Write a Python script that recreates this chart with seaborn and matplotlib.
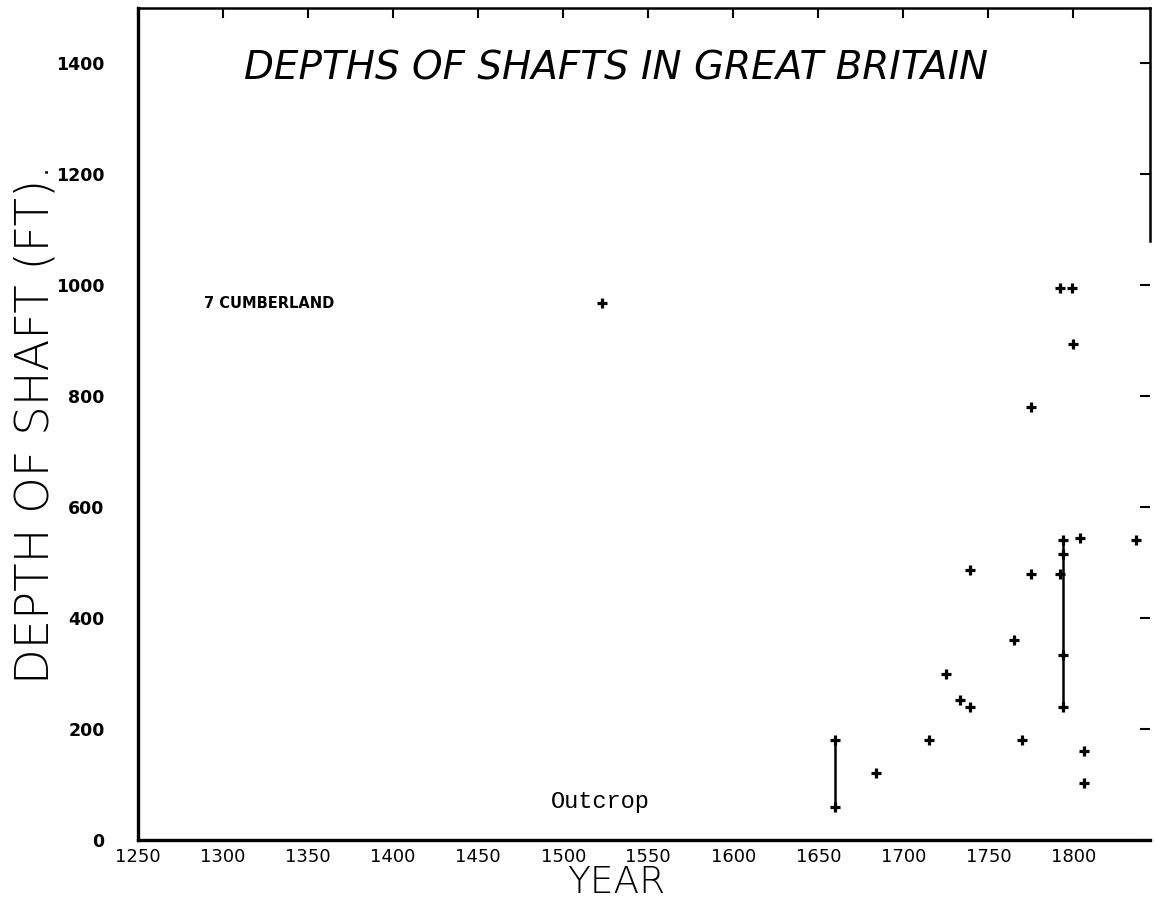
import matplotlib
matplotlib.use("Agg")
import matplotlib.pyplot as plt
from matplotlib import font_manager
import seaborn as sns
import pandas as pd

# ---- data ----
years = [1523, 1660, 1660, 1684, 1715, 1725, 1733, 1739, 1739, 1765, 1770,
         1775, 1775, 1792, 1794, 1794, 1794, 1794, 1792, 1799, 1800, 1804,
         1806, 1806, 1837]
depths = [968, 60, 180, 120, 180, 300, 252, 240, 487, 360, 180,
          480, 780, 480, 240, 333, 515, 540, 995, 995, 895, 545,
          160, 102, 540]
range_years = [1660, 1794]
range_low = [60, 240]
range_high = [180, 540]
x_ticks = [1250, 1300, 1350, 1400, 1450, 1500, 1550, 1600, 1650, 1700, 1750, 1800]
y_ticks = [0, 200, 400, 600, 800, 1000, 1200, 1400]
title = "DEPTHS OF SHAFTS IN GREAT BRITAIN"
xlabel = "YEAR"
ylabel = "DEPTH OF SHAFT (FT)."
note_cumb = "7 CUMBERLAND"
note_cumb_pos = (1289, 968)
note_out = "Outcrop"
note_out_pos = (1493, 70)

def pick(*names):
    avail = {f.name for f in font_manager.fontManager.ttflist}
    for n in names:
        if n in avail:
            return n
    return "DejaVu Sans"

narrow = pick("Liberation Sans Narrow", "DejaVu Sans Condensed", "DejaVu Sans")
mono = pick("Liberation Mono", "DejaVu Sans Mono")

sns.set_style("white")
plt.rcParams["font.family"] = ["DejaVu Sans"]
plt.rcParams["text.color"] = "black"
plt.rcParams["axes.labelcolor"] = "black"
plt.rcParams["xtick.color"] = "black"
plt.rcParams["ytick.color"] = "black"

df = pd.DataFrame({"year": years, "depth": depths})

fig = plt.figure(figsize=(11.56, 9.15), dpi=100)
ax = fig.add_axes([0.1194, 0.082, 0.8754, 0.9093])

ax.vlines(range_years, range_low, range_high, color="black", linewidth=1.8)
sns.scatterplot(data=df, x="year", y="depth", marker="+", s=60,
                color="black", linewidth=2.3, ax=ax, zorder=3)

ax.set_xlim(1250, 1845)
ax.set_ylim(0, 1500)
ax.set_xticks(x_ticks)
ax.set_yticks(y_ticks)
ax.tick_params(direction="in", top=True, right=True, length=7, width=1.5,
               color="black")
ax.tick_params(axis="y", pad=24)
ax.tick_params(axis="x", pad=6)
for lab in ax.get_yticklabels():
    lab.set_fontweight("bold")
    lab.set_fontsize(12.5)
for lab in ax.get_xticklabels():
    lab.set_fontfamily(narrow)
    lab.set_fontsize(13)

for side in ["left", "bottom"]:
    ax.spines[side].set_linewidth(2.4)
for side in ["top", "right"]:
    ax.spines[side].set_linewidth(1.8)
ax.spines["right"].set_bounds(1080, 1500)
for s in ax.spines.values():
    s.set_color("black")

ax.set_xlabel(xlabel, fontsize=27, family=narrow, fontweight="light")
ax.set_ylabel(ylabel, fontsize=33.5, family=narrow, fontweight="light")
ax.xaxis.set_label_coords(0.473, -0.030)
ax.yaxis.set_label_coords(-0.080, 0.5)

ax.text(1531, 1391, title, ha="center", va="center", fontsize=28,
        style="italic", family=narrow, fontweight="light")
ax.text(note_cumb_pos[0], note_cumb_pos[1], note_cumb, ha="left", va="center",
        fontsize=10.5, fontweight="bold", family=narrow)
ax.text(note_out_pos[0], note_out_pos[1], note_out, ha="left", va="center",
        fontsize=17, family=mono)

fig.savefig("out.png", dpi=100)
